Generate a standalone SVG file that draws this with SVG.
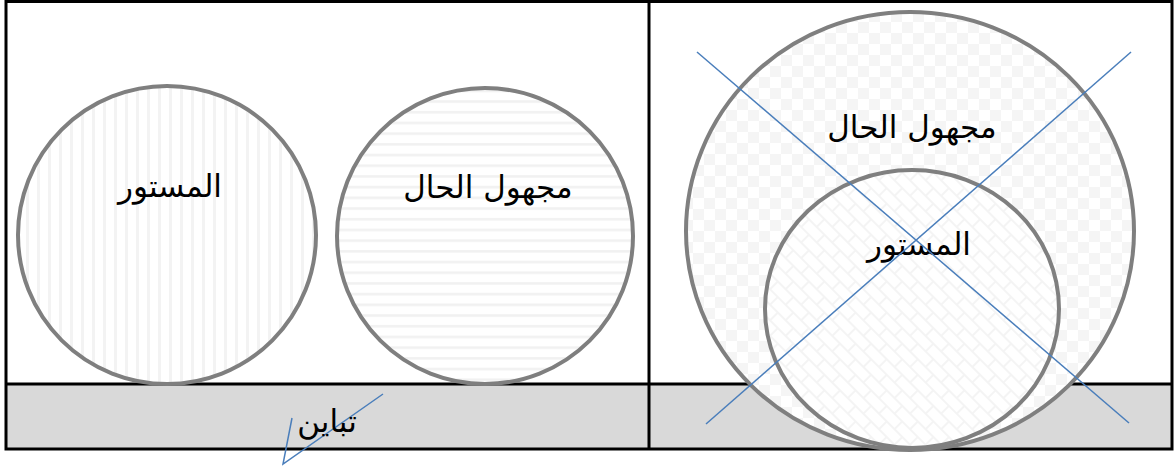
<svg xmlns="http://www.w3.org/2000/svg" width="1174" height="466" viewBox="0 0 1174 466">
<style>
.frame{fill:none;stroke:#000;stroke-width:3}
.band{fill:#d9d9d9}
.ring{stroke:#7f7f7f;stroke-width:4}
.blue{fill:none;stroke:#4a7ebb;stroke-width:1.5}
.lbl{font-family:"DejaVu Sans","Noto Sans",serif;font-size:31px;fill:#000;text-anchor:middle}
</style>
<defs>
<pattern id="vstripe" width="11" height="11" patternUnits="userSpaceOnUse">
<rect width="11" height="11" fill="#fff"/>
<rect x="4" width="3" height="11" fill="#f3f3f3"/>
</pattern>
<pattern id="hstripe" width="11" height="10.7" patternUnits="userSpaceOnUse">
<rect width="11" height="10.7" fill="#fff"/>
<rect y="4" width="11" height="2.5" fill="#f1f1f1"/>
</pattern>
<pattern id="checker" width="22" height="22" patternUnits="userSpaceOnUse">
<rect width="22" height="22" fill="#fff"/>
<rect width="11" height="11" fill="#f5f5f5"/>
<rect x="11" y="11" width="11" height="11" fill="#f5f5f5"/>
</pattern>
<pattern id="brick" width="22" height="22" patternUnits="userSpaceOnUse" patternTransform="rotate(45)">
<rect width="22" height="22" fill="#fff"/>
<rect y="0" width="22" height="2" fill="#f4f4f4"/>
<rect y="11" width="22" height="2" fill="#f4f4f4"/>
<rect x="0" y="0" width="2" height="11" fill="#f4f4f4"/>
<rect x="11" y="11" width="2" height="11" fill="#f4f4f4"/>
</pattern>
</defs>
<rect width="1174" height="466" fill="#fff"/>
<g id="frame">
<rect class="band" x="6" y="384" width="1166" height="65"/>
<rect class="frame" x="6" y="1.5" width="1166" height="447.5"/>
<line class="frame" x1="6" y1="384" x2="1172" y2="384"/>
<line class="frame" x1="649" y1="1.5" x2="649" y2="449"/>
</g>
<g id="node-mastur-left">
<circle class="ring" cx="167" cy="235" r="149" fill="url(#vstripe)"/>
<text class="lbl" x="170" y="197">المستور</text>
</g>
<g id="node-majhul-left">
<circle class="ring" cx="485" cy="236" r="148" fill="url(#hstripe)"/>
<text class="lbl" x="488" y="198">مجهول الحال</text>
</g>
<g id="node-majhul-right">
<ellipse class="ring" cx="910" cy="231" rx="224" ry="219" fill="url(#checker)"/>
<text class="lbl" x="912" y="138">مجهول الحال</text>
</g>
<g id="node-mastur-right">
<ellipse class="ring" cx="912" cy="309" rx="147" ry="139" fill="url(#brick)"/>
<text class="lbl" x="919" y="255">المستور</text>
</g>
<g id="connectors">
<line class="blue" x1="697" y1="52" x2="1129" y2="423"/>
<line class="blue" x1="1131" y1="52" x2="706" y2="424"/>
<polyline class="blue" points="383,394 283,464 292,418"/>
</g>
<g id="node-tabayun">
<text class="lbl" x="327" y="432">تباين</text>
</g>
</svg>
